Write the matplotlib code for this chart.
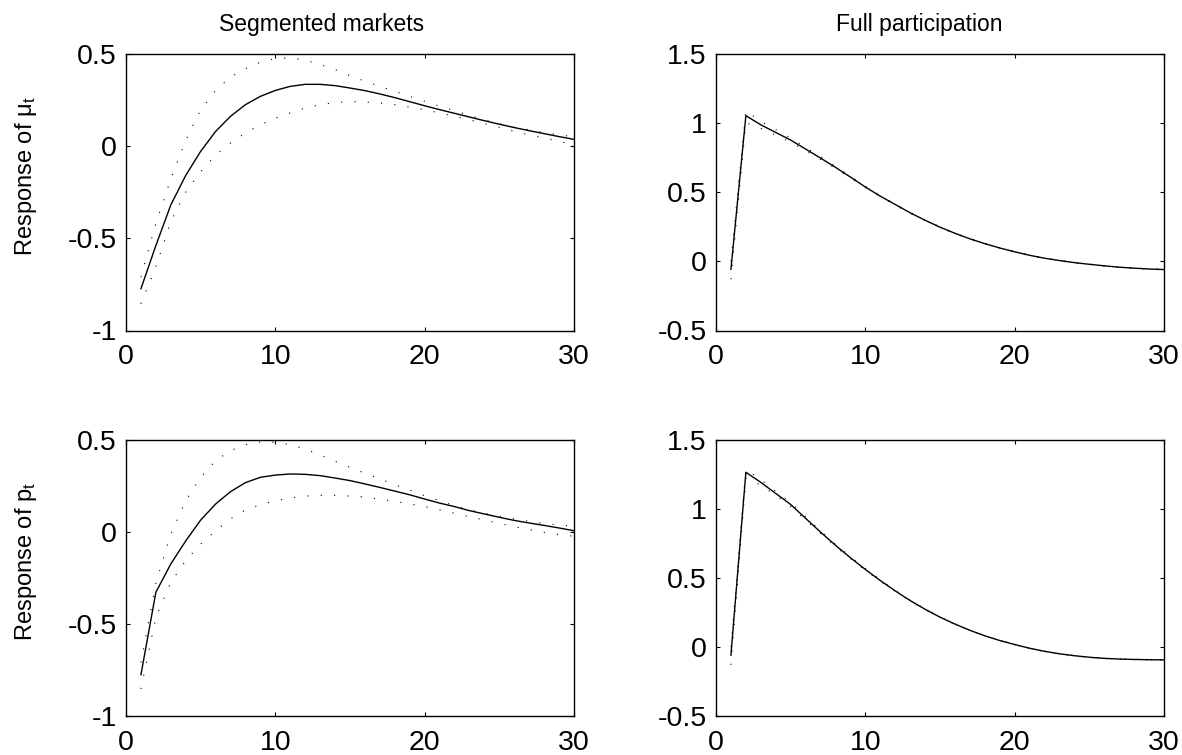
import numpy as np
import matplotlib
matplotlib.use('Agg')
import matplotlib.pyplot as plt
from matplotlib.ticker import FormatStrFormatter

plt.rcParams['font.family'] = ['Liberation Sans', 'DejaVu Sans']
plt.rcParams['mathtext.fontset'] = 'custom'
plt.rcParams['mathtext.rm'] = 'Liberation Sans'
plt.rcParams['mathtext.it'] = 'Liberation Sans'
plt.rcParams['axes.unicode_minus'] = False

t = list(range(1, 31))

# segmented markets, response of mu_t
mu_seg = [-0.774, -0.54, -0.32, -0.16, -0.03, 0.078, 0.16, 0.223, 0.268, 0.30,
          0.322, 0.333, 0.333, 0.326, 0.313, 0.299, 0.281, 0.261, 0.239, 0.217,
          0.196, 0.176, 0.156, 0.136, 0.117, 0.099, 0.082, 0.066, 0.05, 0.035]
mu_seg_hi = [-0.71, -0.42, -0.18, 0.03, 0.196, 0.30, 0.373, 0.417, 0.453, 0.473,
             0.476, 0.464, 0.44, 0.413, 0.38, 0.35, 0.322, 0.295, 0.268, 0.241,
             0.214, 0.19, 0.165, 0.141, 0.12, 0.10, 0.087, 0.072, 0.06, 0.048]
mu_seg_lo = [-0.855, -0.656, -0.41, -0.25, -0.14, -0.05, 0.015, 0.07, 0.114, 0.15,
             0.178, 0.205, 0.223, 0.234, 0.24, 0.237, 0.232, 0.223, 0.21, 0.196,
             0.178, 0.16, 0.141, 0.12, 0.10, 0.078, 0.06, 0.042, 0.024, 0.005]

# full participation, response of mu_t
mu_full = [-0.058, 1.051, 0.985, 0.93, 0.875, 0.81, 0.745, 0.678, 0.608, 0.536,
           0.47, 0.41, 0.35, 0.296, 0.246, 0.202, 0.162, 0.127, 0.096, 0.068,
           0.043, 0.022, 0.005, -0.01, -0.022, -0.033, -0.043, -0.05, -0.056, -0.06]
mu_full_hi = [0.0, 1.087, 1.01, 0.95, 0.89, 0.822, 0.755, 0.686, 0.614, 0.541,
              0.474, 0.413, 0.353, 0.298, 0.248, 0.204, 0.164, 0.128, 0.097, 0.069,
              0.044, 0.023, 0.006, -0.009, -0.021, -0.032, -0.042, -0.049, -0.055, -0.059]
mu_full_lo = [-0.13, 1.0, 0.96, 0.91, 0.86, 0.798, 0.735, 0.67, 0.602, 0.531,
              0.466, 0.407, 0.347, 0.294, 0.244, 0.2, 0.16, 0.126, 0.095, 0.067,
              0.042, 0.021, 0.004, -0.011, -0.023, -0.034, -0.044, -0.051, -0.057, -0.061]

# segmented markets, response of p_t
p_seg = [-0.776, -0.329, -0.175, -0.05, 0.063, 0.15, 0.217, 0.266, 0.295, 0.307,
         0.313, 0.311, 0.304, 0.291, 0.277, 0.259, 0.24, 0.22, 0.20, 0.177,
         0.155, 0.136, 0.114, 0.096, 0.078, 0.061, 0.047, 0.034, 0.02, 0.005]
p_seg_hi = [-0.71, -0.28, -0.013, 0.168, 0.295, 0.385, 0.44, 0.472, 0.487, 0.485,
            0.472, 0.448, 0.416, 0.382, 0.349, 0.317, 0.286, 0.255, 0.226, 0.195,
            0.168, 0.141, 0.118, 0.099, 0.083, 0.069, 0.056, 0.045, 0.036, 0.03]
p_seg_lo = [-0.853, -0.465, -0.275, -0.157, -0.067, 0.005, 0.069, 0.118, 0.146, 0.168,
            0.183, 0.193, 0.197, 0.197, 0.193, 0.188, 0.175, 0.165, 0.15, 0.136,
            0.118, 0.10, 0.081, 0.063, 0.045, 0.027, 0.011, -0.004, -0.016, -0.025]

# full participation, response of p_t
p_full = [-0.06, 1.263, 1.19, 1.11, 1.03, 0.93, 0.83, 0.735, 0.645, 0.56,
          0.48, 0.405, 0.335, 0.272, 0.215, 0.165, 0.12, 0.08, 0.046, 0.017,
          -0.01, -0.032, -0.05, -0.064, -0.075, -0.083, -0.088, -0.091, -0.093, -0.094]
p_full_hi = [0.0, 1.284, 1.21, 1.125, 1.045, 0.942, 0.84, 0.744, 0.652, 0.566,
             0.485, 0.409, 0.338, 0.275, 0.217, 0.167, 0.121, 0.081, 0.047, 0.018,
             -0.009, -0.031, -0.049, -0.063, -0.074, -0.082, -0.087, -0.09, -0.092, -0.093]
p_full_lo = [-0.13, 1.22, 1.17, 1.095, 1.015, 0.918, 0.82, 0.726, 0.638, 0.554,
             0.475, 0.401, 0.332, 0.269, 0.213, 0.163, 0.119, 0.079, 0.045, 0.016,
             -0.011, -0.033, -0.051, -0.065, -0.076, -0.084, -0.089, -0.092, -0.094, -0.095]

W, H = 1182, 755
fig = plt.figure(figsize=(W / 100, H / 100), dpi=100)


def make_ax(left, top, right, bottom):
    return fig.add_axes([left / W, 1 - bottom / H, (right - left) / W, (bottom - top) / H])


panels = [
    (make_ax(126, 53.5, 574, 330.5), mu_seg, mu_seg_hi, mu_seg_lo, (-1, 0.5)),
    (make_ax(716, 53.5, 1164, 330.5), mu_full, mu_full_hi, mu_full_lo, (-0.5, 1.5)),
    (make_ax(126, 439.5, 574, 716), p_seg, p_seg_hi, p_seg_lo, (-1, 0.5)),
    (make_ax(716, 439.5, 1164, 716), p_full, p_full_hi, p_full_lo, (-0.5, 1.5)),
]

for ax, mid, hi, lo, ylim in panels:
    ax.plot(t, mid, color='black', lw=1.0)
    ax.plot(t, hi, color='black', lw=0.8, linestyle=(0, (1, 11)))
    ax.plot(t, lo, color='black', lw=0.8, linestyle=(0, (1, 11)))
    ax.set_xlim(0, 30)
    ax.set_ylim(*ylim)
    ax.set_xticks([0, 10, 20, 30])
    ax.set_yticks(np.arange(ylim[0], ylim[1] + 0.01, 0.5))
    ax.yaxis.set_major_formatter(FormatStrFormatter('%g'))
    ax.tick_params(direction='in', top=True, right=True, length=3.2, width=0.8,
                   labelsize=20.5)
    ax.tick_params(axis='x', pad=10)
    ax.tick_params(axis='y', pad=6.5)
    for s in ax.spines.values():
        s.set_linewidth(1.0)

panels[0][0].set_title('Segmented markets', fontsize=16.5, pad=16.5, x=0.436)
panels[1][0].set_title('Full participation', fontsize=16.5, pad=16.5, x=0.453)
panels[0][0].set_ylabel('Response of μ$_\\mathrm{t}$', fontsize=17)
panels[2][0].set_ylabel('Response of p$_\\mathrm{t}$', fontsize=17)
panels[0][0].yaxis.set_label_coords(-0.195, 0.558)
panels[2][0].yaxis.set_label_coords(-0.195, 0.558)

fig.savefig('out.png', dpi=100)
